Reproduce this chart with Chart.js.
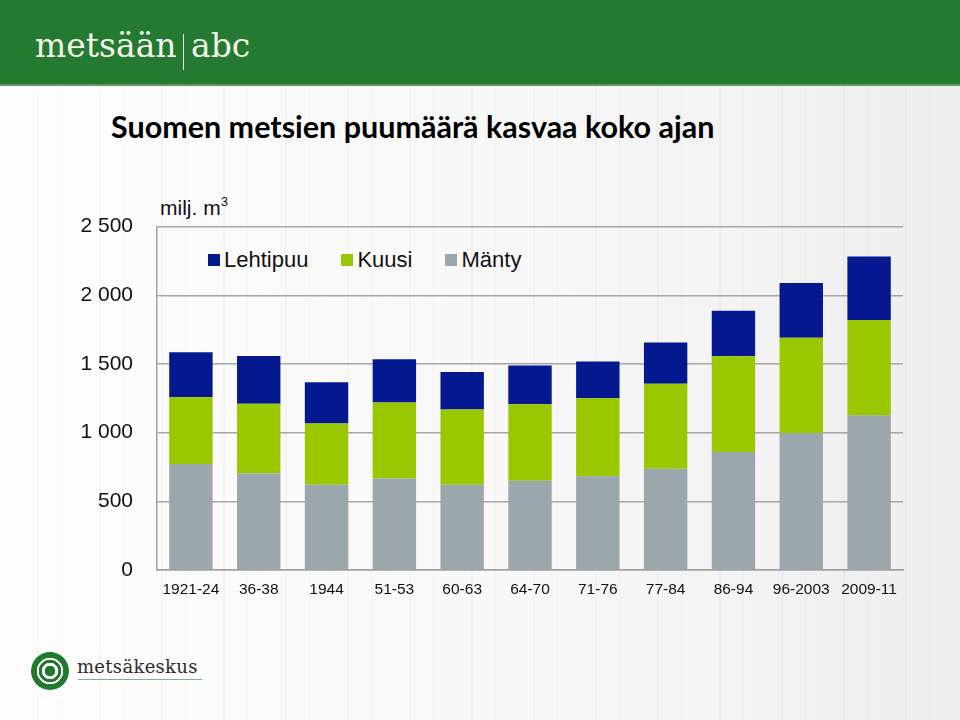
<!DOCTYPE html>
<html lang="fi">
<head>
<meta charset="utf-8">
<title>Suomen metsien puumäärä</title>
<script src="https://cdn.jsdelivr.net/npm/chart.js@4"></script>
<style>
  html, body { margin:0; padding:0; }
  body {
    width:960px; height:720px; position:relative; overflow:hidden;
    font-family:"Liberation Sans", Arial, sans-serif;
    background:
      repeating-linear-gradient(90deg, rgba(0,0,0,0) 0 37px, rgba(120,120,120,.05) 37px 39px, rgba(0,0,0,0) 39px 61px, rgba(120,120,120,.04) 61px 62px),
      linear-gradient(90deg, #fdfdfd 0%, #f8f8f8 55%, #eeeeee 100%);
  }
  #header {
    position:absolute; left:0; top:0; width:960px; height:84px;
    background:#237a30; border-bottom:2px solid #5a9d60;
  }
  #header .logo {
    position:absolute; left:35px; top:26px; color:#f3f3ea;
    font-family:"DejaVu Serif", serif; font-size:33px; white-space:nowrap;
  }
  #header .bar {
    position:absolute; left:183px; top:34px; width:1px; height:36px; background:#e8efe8;
  }
  #header .abc {
    position:absolute; left:191px; top:26px; color:#f3f3ea;
    font-family:"DejaVu Serif", serif; font-size:33px;
  }
  #title {
    position:absolute; left:111px; top:108px; margin:0;
    font-family:Lato, "Open Sans", sans-serif; font-weight:bold; font-size:30.5px; color:#000;
    white-space:nowrap;
  }
  #unit {
    position:absolute; left:160px; top:194px; font-size:21px; color:#111;
  }
  #unit sup { font-size:13px; vertical-align:9px; }
  #legend {
    position:absolute; left:208px; top:247px; display:flex; align-items:center;
    font-size:22px; color:#111;
  }
  #legend .item { display:flex; align-items:center; margin-right:33px; }
  #legend .sw { width:12px; height:12px; margin-right:4px; }
  #wrap { position:absolute; left:0; top:190px; width:960px; height:430px; }
  #footer .ring {
    position:absolute; left:31px; top:652px; width:38px; height:38px; border-radius:50%;
    background:radial-gradient(circle, #1f7a2c 0 5px, #fff 5.5px 8px, #1f7a2c 8.5px 11px, #fff 11.5px 13px, #1f7a2c 13.5px 19px, rgba(0,0,0,0) 19.5px);
  }
  #footer .name {
    position:absolute; left:77px; top:656px; font-family:"DejaVu Serif", serif;
    font-size:18px; color:#2c2c2c; letter-spacing:.3px;
  }
  #footer .line {
    position:absolute; left:78px; top:679px; width:124px; height:1px; background:#7fb287;
  }
</style>
</head>
<body>
<div id="header">
  <span class="logo">metsään</span><span class="bar"></span><span class="abc">abc</span>
</div>
<h1 id="title">Suomen metsien puumäärä kasvaa koko ajan</h1>
<div id="unit">milj. m<sup>3</sup></div>
<div id="legend"></div>
<div id="wrap"><canvas id="chart" width="960" height="430"></canvas></div>
<div id="footer">
  <div class="ring"></div>
  <div class="name">metsäkeskus</div>
  <div class="line"></div>
</div>
<script>
const periods = ['1921-24','36-38','1944','51-53','60-63','64-70','71-76','77-84','86-94','96-2003','2009-11'];
const manty = [772, 702, 620, 666, 620, 649, 683, 738, 859, 998, 1126];
const kuusi = [486, 508, 446, 553, 549, 558, 568, 618, 697, 693, 694];
const lehtipuu = [327, 348, 300, 315, 272, 282, 266, 301, 332, 399, 462];
const yTicks = [0, 500, 1000, 1500, 2000, 2500];

const colors = { manty:'#9ba6ad', kuusi:'#99c800', lehtipuu:'#04188f' };

function fmt(v){
  return String(v).replace(/\B(?=(\d{3})+(?!\d))/g, ' ');
}

const datasets = [
  { label:'Mänty', data:manty, backgroundColor:colors.manty },
  { label:'Kuusi', data:kuusi, backgroundColor:colors.kuusi },
  { label:'Lehtipuu', data:lehtipuu, backgroundColor:colors.lehtipuu }
];

// legend in the same order as the original (top of stack first)
const legend = document.getElementById('legend');
datasets.slice().reverse().forEach(ds => {
  const item = document.createElement('div');
  item.className = 'item';
  const sw = document.createElement('span');
  sw.className = 'sw';
  sw.style.background = ds.backgroundColor;
  const txt = document.createElement('span');
  txt.textContent = ds.label;
  item.appendChild(sw);
  item.appendChild(txt);
  legend.appendChild(item);
});

new Chart(document.getElementById('chart'), {
  type:'bar',
  data:{ labels:periods, datasets:datasets.map(d => ({...d, categoryPercentage:0.8, barPercentage:0.8, borderWidth:0})) },
  options:{
    responsive:false,
    animation:false,
    layout:{ padding:{ top:33, right:57, bottom:0, left:0 } },
    plugins:{ legend:{ display:false }, tooltip:{ enabled:false } },
    scales:{
      x:{
        stacked:true,
        grid:{ display:false },
        border:{ display:true, color:'#a0a0a0', width:1.5 },
        ticks:{ color:'#111', font:{ family:'Liberation Sans', size:15.5 }, padding:2, autoSkip:false, maxRotation:0 },
        afterFit(scale){ scale.height = 50; }
      },
      y:{
        stacked:true,
        min:0, max:2500,
        afterBuildTicks(scale){ scale.ticks = yTicks.map(v => ({ value:v })); },
        grid:{ color:'#a6a6a6', lineWidth:1.5, drawTicks:false },
        border:{ display:true, color:'#a0a0a0', width:1.5 },
        ticks:{ color:'#111', font:{ family:'Liberation Sans', size:21 }, padding:24, callback:v => fmt(v) },
        afterFit(scale){ scale.width = 157; }
      }
    }
  }
});
</script>
</body>
</html>
